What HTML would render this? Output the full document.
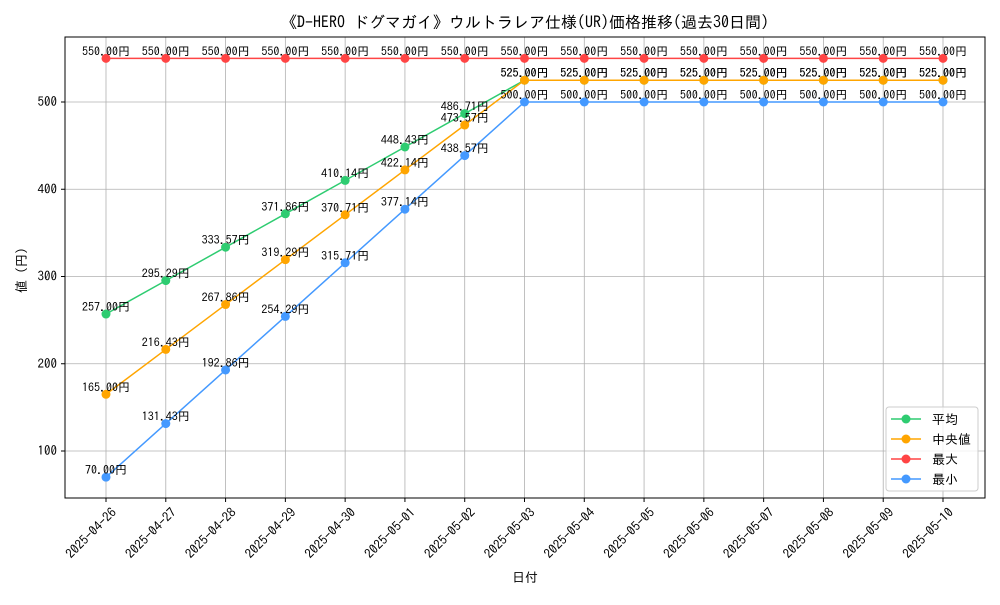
<!DOCTYPE html>
<html><head><meta charset="utf-8"><style>
body{margin:0;background:#fff}
svg text{font-family:"IPAGothic","Liberation Sans","Noto Sans CJK JP",sans-serif;fill:#000}
</style></head><body>
<svg id="c" width="1000" height="600" xmlns="http://www.w3.org/2000/svg">
<rect width="1000" height="600" fill="#fff"/>
<text x="525" y="28" font-size="16" text-anchor="middle">《D-HERO ドグマガイ》ウルトラレア仕様(UR)価格推移(過去30日間)</text>
<g id="grid"></g>
<rect x="65" y="37" width="920" height="461" fill="none" stroke="#000" stroke-width="1"/>
<g id="series"></g>
<text x="525" y="582" font-size="13" text-anchor="middle">日付</text>
<text transform="translate(26,267) rotate(-90)" font-size="13" text-anchor="middle">値（円）</text>
<g>
<rect x="886" y="407" width="92" height="84" rx="3" fill="#fff" fill-opacity="0.8" stroke="#ccc"/>
<g id="legend"></g>
</g>
</svg>
<script>
const dates=["2025-04-26","2025-04-27","2025-04-28","2025-04-29","2025-04-30","2025-05-01","2025-05-02","2025-05-03","2025-05-04","2025-05-05","2025-05-06","2025-05-07","2025-05-08","2025-05-09","2025-05-10"];
const avgVals=[257.00,295.29,333.57,371.86,410.14,448.43,486.71,525,525,525,525,525,525,525,525];
const medVals=[165.00,216.43,267.86,319.29,370.71,422.14,473.57,525,525,525,525,525,525,525,525];
const maxVals=[550,550,550,550,550,550,550,550,550,550,550,550,550,550,550];
const minVals=[70.00,131.43,192.86,254.29,315.71,377.14,438.57,500,500,500,500,500,500,500,500];
const yTicks=[100,200,300,400,500];
const seriesNames=["平均","中央値","最大","最小"];
const NS="http://www.w3.org/2000/svg";
function x(i){return 106+i*(943-106)/(dates.length-1);}
function y(v){return 451-(v-100)*(451-102)/400;}
function mk(tag,attrs,parent){const e=document.createElementNS(NS,tag);for(const k in attrs)e.setAttribute(k,attrs[k]);parent.appendChild(e);return e;}
const grid=document.getElementById('grid');
dates.forEach((d,i)=>{
  const l=mk('line',{x1:x(i),x2:x(i),y1:37,y2:498,stroke:'#b0b0b0','stroke-width':0.8},grid);
  
  
  mk('line',{x1:x(i),x2:x(i),y1:498,y2:502,stroke:'#000'},grid);
  const t=mk('text',{transform:`translate(${x(i)+5},507) rotate(-45)`,'font-size':13,'text-anchor':'end','dominant-baseline':'hanging'},grid);
  t.textContent=d;
  
  
});
yTicks.forEach(v=>{
  const l=mk('line',{x1:65,x2:985,y1:y(v),y2:y(v),stroke:'#b0b0b0','stroke-width':0.8},grid);
  
  
  mk('line',{x1:61,x2:65,y1:y(v),y2:y(v),stroke:'#000'},grid);
  const t=mk('text',{x:57,y:y(v)+4,'font-size':13,'text-anchor':'end'},grid);
  t.textContent=v;
  
  
});
const sg=document.getElementById('series');
const all=[[avgVals,'#2ecc71','avg'],[medVals,'#ffa500','median'],[maxVals,'#ff4444','max'],[minVals,'#4499ff','min']];
all.forEach(([vals,col,nm])=>{
  const p=mk('polyline',{points:vals.map((v,i)=>x(i)+','+y(v)).join(' '),fill:'none',stroke:col,'stroke-width':1.5},sg);
  
  
  vals.forEach((v,i)=>{
    const c=mk('circle',{cx:x(i),cy:y(v),r:4.5,fill:col},sg);
    
    
  });
});
all.forEach(([vals,col,nm])=>{
  vals.forEach((v,i)=>{
    const t=mk('text',{x:x(i),y:y(v)-3,'font-size':12,'text-anchor':'middle'},sg);
    t.textContent=v.toFixed(2)+'円';
    
    
  });
});
const lg=document.getElementById('legend');
all.forEach(([vals,col,nm],k)=>{
  const yy=419+k*20;
  mk('line',{x1:891,x2:921,y1:yy,y2:yy,stroke:col,'stroke-width':1.5},lg);
  mk('circle',{cx:906,cy:yy,r:4.5,fill:col},lg);
  const t=mk('text',{x:932,y:yy+5,'font-size':13},lg);
  t.textContent=seriesNames[k];
  
  
});
</script>
</body></html>
